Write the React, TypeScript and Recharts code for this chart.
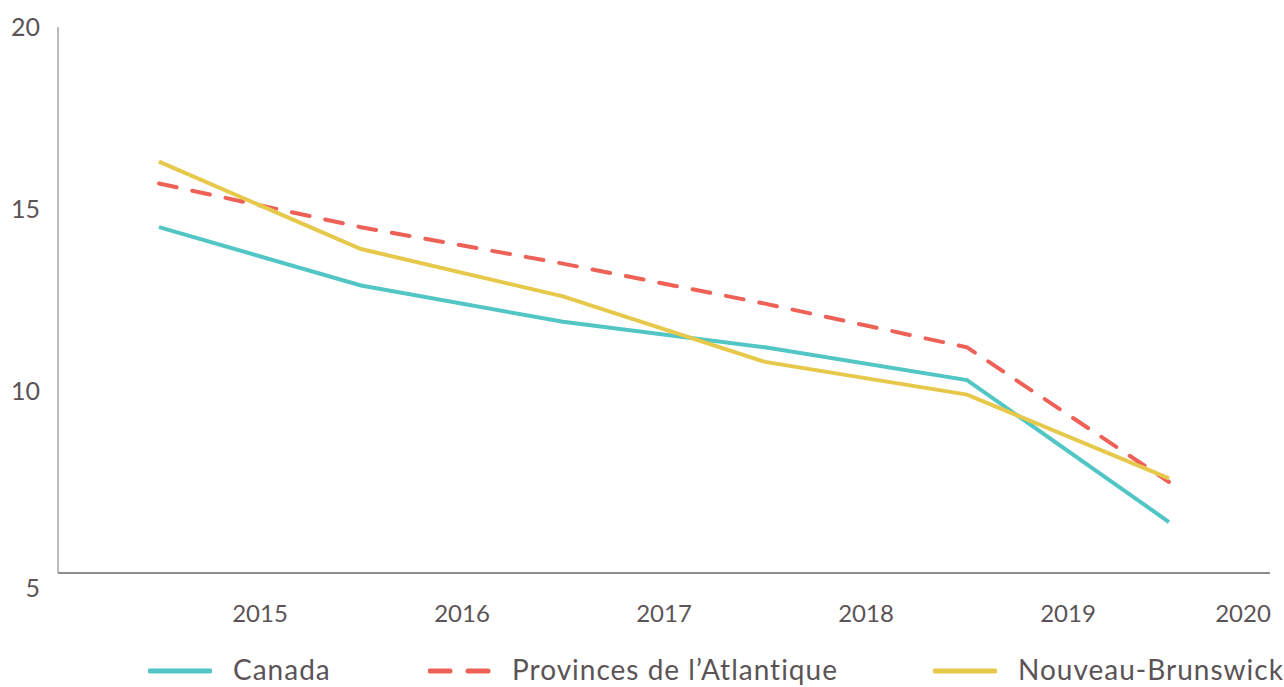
import React from 'react';
import { LineChart, Line, XAxis, YAxis } from 'recharts';

const years = ['2015', '2016', '2017', '2018', '2019', '2020'];
const canada = [14.5, 12.9, 11.9, 11.2, 10.3, 6.4];
const atlantique = [15.7, 14.5, 13.5, 12.4, 11.2, 7.5];
const nouveauBrunswick = [16.3, 13.9, 12.6, 10.8, 9.9, 7.6];
const yTicks = [5, 10, 15, 20];

const data = years.map((y, i) => ({
  x: i + 0.5,
  canada: canada[i],
  atlantique: atlantique[i],
  nb: nouveauBrunswick[i],
}));

const TEXT = '#5b5456';
const FONT = 'Lato, "Open Sans", sans-serif';

const XTick = ({ x, y, payload, index }: any) => {
  const last = index === years.length - 1;
  return (
    <text x={last ? x - 27 : x} y={y + 41} textAnchor="middle" fill={TEXT} fontSize={24} fontFamily={FONT}>
      {years[payload.value - 1]}
    </text>
  );
};

const YTick = ({ y, payload }: any) => (
  <text x={40} y={(payload.value === 5 ? y + 15 : y) + 9} textAnchor="end" fill={TEXT} fontSize={25} fontFamily={FONT}>
    {payload.value}
  </text>
);

const legendItems = [
  { label: 'Canada', color: '#52c6c4', dash: false, lineX: 148, textX: 233 },
  { label: 'Provinces de l\u2019Atlantique', color: '#ee6157', dash: true, lineX: 428, textX: 512 },
  { label: 'Nouveau-Brunswick', color: '#e6c84a', dash: false, lineX: 933, textX: 1018 },
];

export default function App() {
  return (
    <div style={{ position: 'absolute', left: 0, top: 0, width: 1284, height: 687, overflow: 'hidden', background: '#fff' }}>
      <LineChart width={1284} height={687} data={data} margin={{ top: 27, right: 14, left: 0, bottom: 54 }}>
        <XAxis
          dataKey="x"
          type="number"
          domain={[0, 6]}
          ticks={[1, 2, 3, 4, 5, 6]}
          tick={<XTick />}
          tickLine={false}
          axisLine={{ stroke: '#6b6466', strokeWidth: 1.5 }}
          height={60}
        />
        <YAxis
          type="number"
          domain={[5, 20]}
          ticks={yTicks}
          tick={<YTick />}
          tickLine={false}
          axisLine={{ stroke: '#a3a3a3', strokeWidth: 1.5 }}
          width={58}
        />
        <Line dataKey="canada" stroke="#52c6c4" strokeWidth={4} dot={false} isAnimationActive={false} />
        <Line dataKey="atlantique" stroke="#ee6157" strokeWidth={4} strokeDasharray="18 16" strokeLinecap="round" dot={false} isAnimationActive={false} />
        <Line dataKey="nb" stroke="#e6c84a" strokeWidth={4} dot={false} isAnimationActive={false} />
      </LineChart>
      {legendItems.map((item) => (
        <React.Fragment key={item.label}>
          <svg style={{ position: 'absolute', left: item.lineX, top: 666 }} width={64} height={10}>
            {item.dash ? (
              <>
                <line x1={2} y1={5} x2={22} y2={5} stroke={item.color} strokeWidth={5} strokeLinecap="round" />
                <line x1={40} y1={5} x2={60} y2={5} stroke={item.color} strokeWidth={5} strokeLinecap="round" />
              </>
            ) : (
              <line x1={2} y1={5} x2={62} y2={5} stroke={item.color} strokeWidth={5} strokeLinecap="round" />
            )}
          </svg>
          <div style={{ position: 'absolute', left: item.textX, top: 653, fontFamily: FONT, fontSize: 28, letterSpacing: 1, color: TEXT, whiteSpace: 'nowrap', lineHeight: '32px' }}>
            {item.label}
          </div>
        </React.Fragment>
      ))}
    </div>
  );
}
